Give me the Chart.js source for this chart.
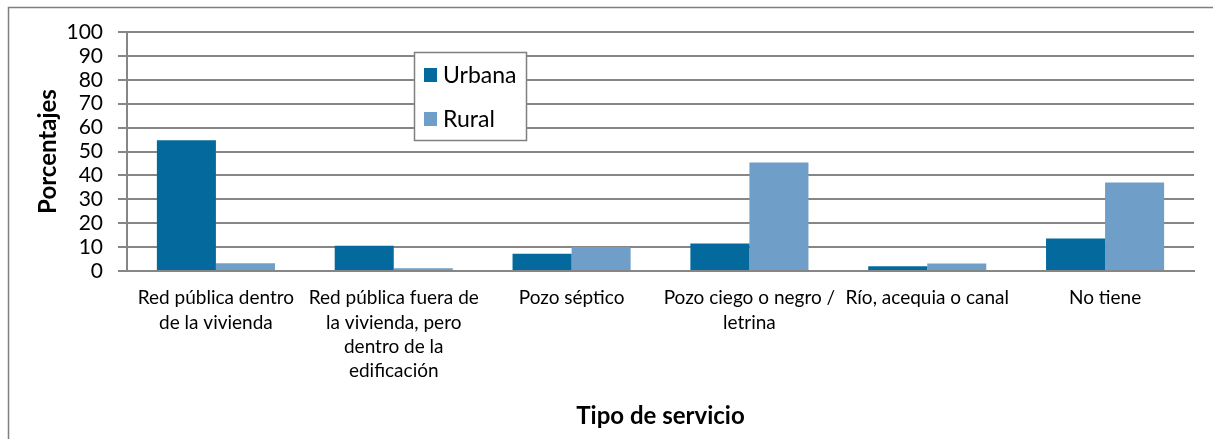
<!DOCTYPE html>
<html>
<head>
<meta charset="utf-8">
<script src="https://cdn.jsdelivr.net/npm/chart.js@4.4.1/dist/chart.umd.min.js"></script>
<style>
  html, body { margin: 0; padding: 0; background: #fff; }
  #wrap { position: relative; width: 1213px; height: 439px; }
</style>
</head>
<body>
<div id="wrap"><canvas id="c" width="1213" height="439"></canvas></div>
<script>
const categories = [
  ["Red pública dentro", "de la vivienda"],
  ["Red pública fuera de", "la vivienda, pero", "dentro de la", "edificación"],
  "Pozo séptico",
  ["Pozo ciego o negro /", "letrina"],
  "Río, acequia o canal",
  "No tiene"
];
const urbana = [54.7, 10.6, 7.2, 11.5, 2.0, 13.6];
const rural = [3.2, 1.1, 10.0, 45.4, 3.1, 37.0];
const seriesNames = ["Urbana", "Rural"];
const yTicks = { min: 0, max: 100, step: 10 };

const FONT = "Lato, 'Open Sans', sans-serif";
const GRID = "#868686";

const framePlugin = {
  id: 'frame',
  beforeDraw(chart) {
    const ctx = chart.ctx;
    ctx.save();
    ctx.fillStyle = '#fff';
    ctx.fillRect(0, 0, chart.width, chart.height);
    ctx.strokeStyle = '#7f7f7f';
    ctx.lineWidth = 1.5;
    ctx.beginPath();
    ctx.moveTo(8.5, chart.height + 2);
    ctx.lineTo(8.5, 7.5);
    ctx.lineTo(chart.width + 2, 7.5);
    ctx.stroke();
    ctx.restore();
  }
};

const legendPlugin = {
  id: 'boxLegend',
  afterDraw(chart) {
    const ctx = chart.ctx;
    const x = 414, y = 52, w = 112, h = 88;
    ctx.save();
    ctx.fillStyle = '#fff';
    ctx.fillRect(x, y, w, h);
    ctx.strokeStyle = '#808080';
    ctx.lineWidth = 1.5;
    ctx.strokeRect(x + 0.5, y + 0.5, w, h);
    ctx.font = "23px " + FONT;
    ctx.textBaseline = 'middle';
    ctx.textAlign = 'left';
    chart.data.datasets.forEach((ds, i) => {
      const cy = 75 + i * 44;
      ctx.fillStyle = ds.backgroundColor;
      ctx.fillRect(424, cy - 7, 13, 14);
      ctx.fillStyle = '#000';
      ctx.fillText(ds.label, 443, cy + 1);
    });
    ctx.restore();
  }
};

new Chart(document.getElementById('c'), {
  type: 'bar',
  data: {
    labels: categories,
    datasets: [
      { label: seriesNames[0], data: urbana, backgroundColor: '#046a9e', borderWidth: 0 },
      { label: seriesNames[1], data: rural, backgroundColor: '#6f9fc8', borderWidth: 0 }
    ]
  },
  options: {
    responsive: false,
    animation: false,
    devicePixelRatio: 1,
    layout: { padding: { left: 0, top: 32, right: 19, bottom: 0 } },
    datasets: { bar: { categoryPercentage: 0.664, barPercentage: 1.0 } },
    plugins: { legend: { display: false }, tooltip: { enabled: false } },
    scales: {
      x: {
        grid: { display: false, drawTicks: false },
        border: { display: true, color: GRID, width: 2 },
        ticks: {
          autoSkip: false, maxRotation: 0, minRotation: 0,
          color: '#000', padding: 15,
          font: { family: FONT, size: 19, lineHeight: 1.28 }
        },
        title: {
          display: true, text: 'Tipo de servicio', color: '#000',
          font: { family: FONT, size: 24, weight: 'bold', lineHeight: 1.2 },
          padding: { top: 0, bottom: 8 }
        },
        afterFit(scale) { scale.height = 168; }
      },
      y: {
        min: yTicks.min, max: yTicks.max,
        grid: { color: GRID, lineWidth: 2, tickLength: 9, drawTicks: true },
        border: { display: true, color: GRID, width: 2 },
        ticks: {
          stepSize: yTicks.step, autoSkip: false, color: '#000', padding: 15,
          font: { family: FONT, size: 21 }
        },
        title: {
          display: true, text: 'Porcentajes', color: '#000',
          font: { family: FONT, size: 24, weight: 'bold', lineHeight: 1.2 },
          padding: { top: 34, bottom: 0 }
        },
        afterFit(scale) { scale.width = 127; }
      }
    }
  },
  plugins: [framePlugin, legendPlugin]
});
</script>
</body>
</html>
